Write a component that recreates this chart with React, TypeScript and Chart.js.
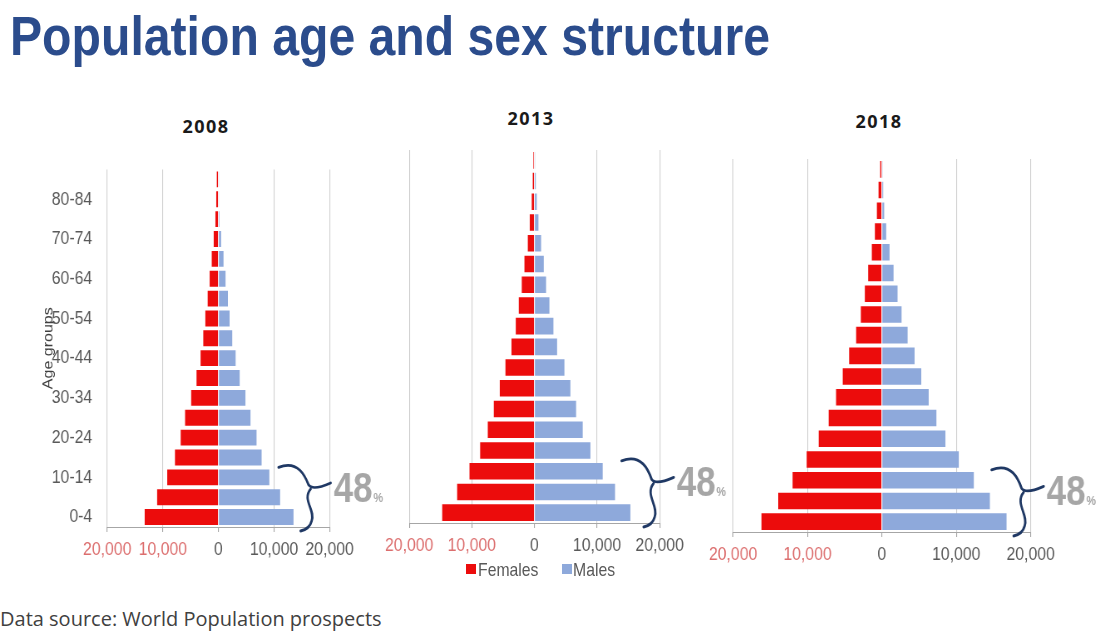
import React, { useEffect, useRef } from "react";
import { Chart, registerables } from "chart.js";

Chart.register(...registerables);

// ---------- data ----------
const ageGroups = ["0-4", "5-9", "10-14", "15-19", "20-24", "25-29", "30-34", "35-39", "40-44", "45-49", "50-54", "55-59", "60-64", "65-69", "70-74", "75-79", "80-84", "85+"];
const years = ["2008", "2013", "2018"];
const females2008 = [13270, 11030, 9210, 7820, 6790, 6000, 4910, 3940, 3210, 2730, 2360, 1940, 1580, 1210, 850, 550, 400, 300];
const males2008 = [13500, 11090, 9150, 7760, 6850, 5760, 4850, 3820, 3090, 2480, 2000, 1700, 1270, 910, 480, 180, 100, 60];
const females2013 = [14730, 12340, 10370, 8670, 7450, 6490, 5530, 4630, 3670, 2980, 2500, 2020, 1600, 1060, 740, 430, 270, 160];
const males2013 = [15320, 12870, 10900, 8940, 7710, 6650, 5740, 4790, 3620, 3030, 2390, 1860, 1490, 1060, 640, 370, 210, 100];
const females2018 = [16180, 13930, 12000, 10110, 8490, 7150, 6160, 5260, 4400, 3460, 2830, 2290, 1840, 1350, 940, 670, 450, 220];
const males2018 = [16760, 14520, 12360, 10340, 8540, 7330, 6290, 5300, 4400, 3460, 2650, 2110, 1570, 1030, 580, 310, 180, 90];
const axisMin = -20000;
const axisMax = 20000;
const axisStep = 10000;
const under15Share = [48, 48, 48];
const seriesNames = ["Females", "Males"];

// ---------- style ----------
// The slide is horizontally condensed: canvases are drawn wider and squeezed by S.
const S = 0.83;
const K = 1 / S;
const SANS = "'Liberation Sans', Arial, sans-serif";
const RED = "#EC0C0C";
const BLUE = "#8EA9DB";
const TICK_GRAY = "#595959";
const TICK_RED = "#DC6E6E";
const seriesColors = [RED, BLUE];

type Layout = {
  box: { left: number; top: number; width: number; height: number };
  plot: { left: number; right: number; top: number; bottom: number };
  yTitleX: number;
  showY: boolean;
  braceDx: number;
  title: { cx: number; cy: number };
};

const layouts: Layout[] = [
  {
    box: { left: 0, top: 140, width: 400, height: 430 },
    plot: { left: 107, right: 329, top: 158, bottom: 527 },
    yTitleX: 48.5,
    showY: true,
    braceDx: 1,
    title: { cx: 206, cy: 126.5 },
  },
  {
    box: { left: 380, top: 130, width: 350, height: 440 },
    plot: { left: 408, right: 659, top: 150, bottom: 523 },
    yTitleX: 0,
    showY: false,
    braceDx: 14,
    title: { cx: 531, cy: 118.5 },
  },
  {
    box: { left: 700, top: 140, width: 404, height: 430 },
    plot: { left: 733, right: 1030, top: 159, bottom: 532 },
    yTitleX: 0,
    showY: false,
    braceDx: 13,
    title: { cx: 879, cy: 121.5 },
  },
];

// legend placement (under the middle panel)
const legendItems = [
  { box: 466, text: 478 },
  { box: 562, text: 573 },
];
const legendCy = 569;

const bracePlugin = {
  id: "brace",
  afterDraw(chart: any, _args: any, opts: any) {
    const { ctx, chartArea, scales } = chart;
    const y = scales.y;
    const rowH = Math.abs(y.getPixelForValue(1) - y.getPixelForValue(0));
    const T = y.getPixelForValue(2) - rowH / 2 - 2;
    const B = chartArea.bottom + 3;
    const H = B - T;
    const Tx = chartArea.right + opts.dx * K;
    const Jx = Tx - 21 * K;
    const Jy = T + 0.38 * H;
    const L = Tx - 52 * K;
    ctx.save();
    ctx.strokeStyle = "#1F3864";
    ctx.lineWidth = 2.8;
    ctx.lineCap = "round";
    ctx.lineJoin = "round";
    ctx.beginPath();
    ctx.moveTo(L, T + 2);
    ctx.bezierCurveTo(L + 20 * K, T - 6, Jx - 4 * K, T + 12, Jx - 1 * K, Jy - 5);
    ctx.quadraticCurveTo(Jx + 3 * K, Jy + 1, Tx, Jy - 7);
    ctx.stroke();
    ctx.beginPath();
    ctx.moveTo(Jx + 1 * K, Jy - 1);
    ctx.bezierCurveTo(Jx - 8 * K, Jy + 10, Jx + 6 * K, B - 20, Jx + 2 * K, B - 9);
    ctx.quadraticCurveTo(Jx, B - 1, Jx - 9 * K, B + 1);
    ctx.stroke();

    const label = String(opts.value);
    ctx.fillStyle = "#A6A6A6";
    ctx.textAlign = "left";
    ctx.textBaseline = "alphabetic";
    ctx.font = `bold 42px ${SANS}`;
    const tx = Tx + 3 * K;
    const ty = Jy + 12;
    ctx.fillText(label, tx, ty);
    const w = ctx.measureText(label).width;
    ctx.font = `bold 13px ${SANS}`;
    ctx.fillText("%", tx + w + 1, ty);
    ctx.restore();
  },
};

function Pyramid(props: { layout: Layout; females: number[]; males: number[]; share: number }) {
  const { layout, females, males, share } = props;
  const ref = useRef<HTMLCanvasElement>(null);
  const b = layout.box;
  const p = layout.plot;
  const innerW = b.width / S;

  useEffect(() => {
    const canvas = ref.current;
    if (!canvas) return;
    const yTitleHalf = (16 * 1.2) / 2;
    const padLeft = layout.showY ? layout.yTitleX / S - yTitleHalf - b.left / S : (p.left - b.left) / S;
    const yWidth = layout.showY ? (p.left - b.left) / S - padLeft : 0;
    const padRight = (b.left + b.width - p.right) / S;
    const padTop = p.top - b.top;
    const xHeight = b.top + b.height - p.bottom;

    const chart = new Chart(canvas, {
      type: "bar",
      data: {
        labels: ageGroups,
        datasets: [
          {
            label: seriesNames[0],
            data: females.map((v) => -v),
            backgroundColor: seriesColors[0],
            borderWidth: 0,
            barPercentage: 0.8,
            categoryPercentage: 1,
          },
          {
            label: seriesNames[1],
            data: males,
            backgroundColor: seriesColors[1],
            borderWidth: 0,
            barPercentage: 0.8,
            categoryPercentage: 1,
          },
        ],
      },
      options: {
        indexAxis: "y",
        animation: false,
        responsive: true,
        maintainAspectRatio: false,
        layout: { padding: { left: padLeft, right: padRight, top: padTop, bottom: 0 } },
        plugins: {
          title: { display: false },
          tooltip: { enabled: false },
          legend: { display: false },
          // @ts-ignore
          brace: { dx: layout.braceDx, value: share },
        },
        scales: {
          x: {
            type: "linear",
            stacked: true,
            min: axisMin,
            max: axisMax,
            ticks: {
              stepSize: axisStep,
              padding: 6,
              autoSkip: false,
              maxRotation: 0,
              minRotation: 0,
              font: { family: SANS, size: 19 },
              color: (c: any) => (c.tick && c.tick.value < 0 ? TICK_RED : TICK_GRAY),
              callback: (v: any) => Math.abs(Number(v)).toLocaleString("en-US"),
            },
            grid: {
              color: (c: any) => (c.tick && c.tick.value === 0 ? "rgba(0,0,0,0)" : "#D0D0D0"),
              tickColor: "#A6A6A6",
              tickLength: 5,
              lineWidth: 1.1,
            },
            border: { display: true, color: "#A6A6A6" },
            afterFit: (s: any) => {
              s.height = xHeight;
            },
          },
          y: {
            type: "category",
            stacked: true,
            reverse: true,
            display: layout.showY,
            grid: { display: false, drawTicks: false },
            border: { display: false },
            ticks: {
              autoSkip: false,
              padding: 15 * K,
              color: TICK_GRAY,
              font: { family: SANS, size: 19 },
              callback: (_v: any, i: number) => (i % 2 === 0 ? ageGroups[i] : ""),
            },
            title: {
              display: layout.showY,
              text: "Age groups",
              color: "#404040",
              padding: 0,
              font: { family: SANS, size: 16 },
            },
            afterFit: (s: any) => {
              s.width = yWidth;
            },
          },
        },
      },
      plugins: [bracePlugin as any],
    } as any);
    return () => chart.destroy();
  }, []);

  return (
    <div
      style={{
        position: "absolute",
        left: b.left,
        top: b.top,
        width: innerW,
        height: b.height,
        transform: `scaleX(${S})`,
        transformOrigin: "0 0",
      }}
    >
      <canvas ref={ref} />
    </div>
  );
}

export default function App() {
  const femalesByYear = [females2008, females2013, females2018];
  const malesByYear = [males2008, males2013, males2018];
  return (
    <div
      style={{
        position: "absolute",
        left: 0,
        top: 0,
        width: 1104,
        height: 638,
        overflow: "hidden",
        background: "#ffffff",
      }}
    >
      <div
        style={{
          position: "absolute",
          left: 10,
          top: 7.6,
          whiteSpace: "nowrap",
          fontFamily: SANS,
          fontWeight: 700,
          fontSize: 56,
          lineHeight: "56px",
          color: "#2B4C8C",
          transform: "scaleX(0.86)",
          transformOrigin: "0 0",
        }}
      >
        Population age and sex structure
      </div>
      {years.map((yr, i) => (
        <div
          key={yr}
          style={{
            position: "absolute",
            left: layouts[i].title.cx - 50,
            top: layouts[i].title.cy - 9.5,
            width: 100,
            textAlign: "center",
            fontFamily: "'Open Sans', sans-serif",
            fontWeight: 700,
            fontSize: 18,
            lineHeight: "18px",
            letterSpacing: "1.5px",
            color: "#1A1A1A",
          }}
        >
          {yr}
        </div>
      ))}
      {years.map((yr, i) => (
        <Pyramid key={"c" + yr} layout={layouts[i]} females={femalesByYear[i]} males={malesByYear[i]} share={under15Share[i]} />
      ))}
      {seriesNames.map((name, i) => (
        <React.Fragment key={name}>
          <div
            style={{
              position: "absolute",
              left: legendItems[i].box,
              top: legendCy - 5,
              width: 10,
              height: 10,
              background: seriesColors[i],
            }}
          />
          <div
            style={{
              position: "absolute",
              left: legendItems[i].text,
              top: legendCy - 9.3,
              whiteSpace: "nowrap",
              fontFamily: SANS,
              fontSize: 19,
              lineHeight: "19px",
              color: TICK_GRAY,
              transform: `scaleX(${S})`,
              transformOrigin: "0 0",
            }}
          >
            {name}
          </div>
        </React.Fragment>
      ))}
      <div
        style={{
          position: "absolute",
          left: 0,
          top: 609,
          whiteSpace: "nowrap",
          fontFamily: "'Open Sans', sans-serif",
          fontSize: 20,
          lineHeight: "20px",
          color: "#404040",
        }}
      >
        Data source: World Population prospects
      </div>
    </div>
  );
}
